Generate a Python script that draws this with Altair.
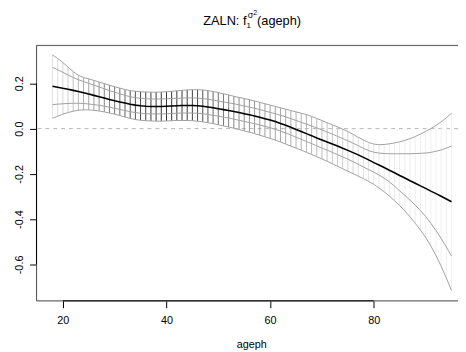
import altair as alt
import pandas as pd

ages = list(range(18, 96))

center = [0.187, 0.183, 0.178, 0.174, 0.169, 0.164, 0.159, 0.153, 0.147, 0.141,
          0.135, 0.129, 0.123, 0.118, 0.113, 0.108, 0.104, 0.101, 0.099, 0.098,
          0.098, 0.098, 0.099, 0.100, 0.101, 0.102, 0.102, 0.102, 0.101, 0.099,
          0.096, 0.092, 0.088, 0.084, 0.080, 0.076, 0.071, 0.066, 0.061, 0.056,
          0.050, 0.044, 0.038, 0.031, 0.023, 0.015, 0.006, -0.004, -0.013, -0.022,
          -0.031, -0.041, -0.050, -0.059, -0.068, -0.077, -0.087, -0.096, -0.106, -0.116,
          -0.127, -0.138, -0.150, -0.161, -0.172, -0.184, -0.195, -0.207, -0.218, -0.230,
          -0.241, -0.253, -0.264, -0.276, -0.287, -0.299, -0.311, -0.323]

outer_upper = [0.326, 0.310, 0.292, 0.272, 0.252, 0.236, 0.226, 0.220, 0.213, 0.206,
               0.199, 0.192, 0.185, 0.179, 0.173, 0.168, 0.165, 0.163, 0.162, 0.161,
               0.161, 0.162, 0.163, 0.165, 0.167, 0.169, 0.171, 0.172, 0.172, 0.171,
               0.168, 0.164, 0.159, 0.154, 0.149, 0.143, 0.138, 0.133, 0.128, 0.122,
               0.116, 0.110, 0.104, 0.098, 0.092, 0.086, 0.080, 0.074, 0.068, 0.062,
               0.054, 0.045, 0.036, 0.026, 0.017, 0.008, -0.002, -0.013, -0.025, -0.038,
               -0.050, -0.061, -0.068, -0.071, -0.070, -0.067, -0.063, -0.058, -0.052, -0.044,
               -0.035, -0.024, -0.012, 0.000, 0.014, 0.030, 0.048, 0.068]

inner_upper = [0.271, 0.260, 0.249, 0.237, 0.226, 0.216, 0.208, 0.200, 0.192, 0.184,
               0.176, 0.168, 0.161, 0.154, 0.147, 0.141, 0.137, 0.134, 0.132, 0.131,
               0.131, 0.131, 0.132, 0.133, 0.134, 0.135, 0.136, 0.136, 0.135, 0.133,
               0.130, 0.126, 0.122, 0.118, 0.114, 0.110, 0.105, 0.100, 0.095, 0.090,
               0.084, 0.078, 0.072, 0.066, 0.059, 0.052, 0.044, 0.036, 0.028, 0.020,
               0.012, 0.003, -0.006, -0.015, -0.024, -0.034, -0.044, -0.054, -0.064, -0.075,
               -0.087, -0.097, -0.104, -0.108, -0.110, -0.111, -0.111, -0.111, -0.111, -0.111,
               -0.110, -0.109, -0.108, -0.105, -0.100, -0.094, -0.086, -0.077]

inner_lower = [0.106, 0.108, 0.110, 0.111, 0.112, 0.112, 0.111, 0.109, 0.106, 0.103,
               0.099, 0.095, 0.090, 0.085, 0.080, 0.075, 0.071, 0.068, 0.066, 0.065,
               0.065, 0.065, 0.066, 0.067, 0.068, 0.069, 0.069, 0.069, 0.068, 0.066,
               0.063, 0.059, 0.055, 0.051, 0.047, 0.042, 0.037, 0.032, 0.027, 0.022,
               0.016, 0.010, 0.004, -0.003, -0.011, -0.019, -0.028, -0.038, -0.047, -0.057,
               -0.066, -0.076, -0.086, -0.095, -0.105, -0.115, -0.125, -0.135, -0.146, -0.157,
               -0.169, -0.181, -0.192, -0.205, -0.219, -0.235, -0.254, -0.275, -0.295, -0.316,
               -0.338, -0.362, -0.388, -0.418, -0.450, -0.485, -0.523, -0.563]

outer_lower = [0.046, 0.055, 0.064, 0.071, 0.077, 0.081, 0.083, 0.083, 0.081, 0.078,
               0.074, 0.069, 0.064, 0.058, 0.051, 0.045, 0.040, 0.037, 0.035, 0.034,
               0.033, 0.033, 0.034, 0.035, 0.036, 0.036, 0.036, 0.035, 0.033, 0.030,
               0.026, 0.022, 0.017, 0.012, 0.007, 0.002, -0.004, -0.010, -0.016, -0.022,
               -0.029, -0.036, -0.043, -0.051, -0.059, -0.068, -0.077, -0.086, -0.095, -0.105,
               -0.114, -0.124, -0.134, -0.144, -0.155, -0.166, -0.177, -0.188, -0.199, -0.210,
               -0.221, -0.233, -0.246, -0.262, -0.279, -0.298, -0.318, -0.340, -0.364, -0.390,
               -0.418, -0.448, -0.480, -0.518, -0.561, -0.608, -0.660, -0.715]

# grey level of each vertical segment (observation density)
shade = [225, 220, 212, 204, 194, 184, 172, 162, 152, 142,
         132, 122, 112, 102, 92, 82, 74, 66, 60, 56,
         52, 50, 48, 48, 50, 52, 56, 62, 70, 80,
         90, 100, 110, 118, 124, 130, 136, 140, 144, 148,
         152, 156, 159, 162, 165, 168, 171, 174, 177, 180,
         184, 188, 192, 196, 200, 204, 208, 212, 216, 220,
         223, 226, 229, 232, 233, 234, 235, 236, 237, 237,
         238, 238, 239, 239, 240, 240, 240, 240]

x_ticks = [20, 40, 60, 80]
y_ticks = [-0.6, -0.4, -0.2, 0.0, 0.2]
x_domain = [14.92, 96.25]
y_domain = [-0.7609, 0.3678]

df = pd.DataFrame({
    "ageph": ages,
    "center": center,
    "ou": outer_upper,
    "iu": inner_upper,
    "il": inner_lower,
    "ol": outer_lower,
    "col": ["#%02x%02x%02x" % (g, g, g) for g in shade],
})

FONT = "Liberation Sans"

xs = alt.Scale(domain=x_domain, nice=False, zero=False, padding=0)
ys = alt.Scale(domain=y_domain, nice=False, zero=False, padding=0)

x_axis = alt.Axis(values=x_ticks, title="ageph", grid=False, domain=False,
                  tickSize=7, tickColor="black", labelPadding=7, labelFontSize=11,
                  labelFont=FONT, labelColor="black", titleFont=FONT, titleFontSize=11,
                  titleFontWeight="normal", titleColor="black", titleX=218.7, titleY=47.5,
                  titleAlign="center", titleBaseline="alphabetic", labelFlush=False)
y_axis = alt.Axis(values=y_ticks, title=None, grid=False, domain=False,
                  tickSize=7, tickColor="black", labelPadding=7, labelFontSize=11,
                  labelFont=FONT, labelColor="black", labelAngle=270, labelAlign="center",
                  labelBaseline="alphabetic", labelFlush=False,
                  labelExpr="replace(format(datum.value, '.1f'), '\u2212', '-')")

base = alt.Chart(df)

zero_df = pd.DataFrame({"y": [0.0]})
zero = alt.Chart(zero_df).mark_rule(color="#b4b4b4", strokeWidth=1, strokeDash=[4, 4]).encode(
    y=alt.Y("y:Q", scale=ys, axis=y_axis),
)

verticals = base.mark_rule(strokeWidth=1).encode(
    x=alt.X("ageph:Q", scale=xs, axis=x_axis),
    y=alt.Y("ol:Q", scale=ys, axis=y_axis),
    y2="ou:Q",
    color=alt.Color("col:N", scale=None),
)

bands = base.transform_fold(["ou", "iu", "il", "ol"], as_=["bound", "val"]).mark_line(
    color="#a0a0a0", strokeWidth=1).encode(
    x=alt.X("ageph:Q", scale=xs),
    y=alt.Y("val:Q", scale=ys),
    detail="bound:N",
)

mean_line = base.mark_line(color="black", strokeWidth=1.6).encode(
    x=alt.X("ageph:Q", scale=xs),
    y=alt.Y("center:Q", scale=ys),
)

# box (right side lies beyond the picture)
frame_h = alt.Chart(pd.DataFrame({"y": [y_domain[0], y_domain[1]]})).mark_rule(
    color="#555555", strokeWidth=1).encode(
    y=alt.Y("y:Q", scale=ys), x=alt.value(0), x2=alt.value(440))
frame_v = alt.Chart(pd.DataFrame({"x": [x_domain[0]]})).mark_rule(
    color="#555555", strokeWidth=1).encode(x=alt.X("x:Q", scale=xs))

# axis lines from first to last tick
ax_df = pd.DataFrame({"x1": [x_ticks[0]], "x2": [x_ticks[-1]], "xl": [x_domain[0]],
                      "y1": [y_ticks[0]], "y2": [y_ticks[-1]], "yb": [y_domain[0]]})
x_line = alt.Chart(ax_df).mark_rule(color="black", strokeWidth=1).encode(
    x=alt.X("x1:Q", scale=xs), x2="x2:Q", y=alt.Y("yb:Q", scale=ys))
y_line = alt.Chart(ax_df).mark_rule(color="black", strokeWidth=1).encode(
    y=alt.Y("y1:Q", scale=ys), y2="y2:Q", x=alt.X("xl:Q", scale=xs))

# title  ZALN: f_1^{sigma^2}(ageph)
title_parts = pd.DataFrame({
    "t": ["ZALN: f", "1", "\u03c3", "2", "(ageph)"],
    "px": [169.7, 213.8, 215.0, 220.6, 224.5],
    "py": [-20.5, -18.0, -27.5, -31.0, -20.5],
    "fs": [13, 8, 9, 7, 13],
})
title_layers = []
for i in range(len(title_parts)):
    r = title_parts.iloc[i]
    title_layers.append(
        alt.Chart(pd.DataFrame({"t": [r["t"]]})).mark_text(
            font=FONT, fontSize=float(r["fs"]), align="left", baseline="alphabetic",
            color="black").encode(text="t:N", x=alt.value(float(r["px"])), y=alt.value(float(r["py"])))
    )

chart = alt.layer(zero, verticals, bands, mean_line, frame_h, frame_v, x_line, y_line,
                  *title_layers).properties(
    width=429, height=260,
    autosize=alt.AutoSizeParams(type="none"),
    padding={"left": 29, "top": 35, "right": 0, "bottom": 49},
).configure_view(stroke=None).configure(background="white")

chart.save("out.html", embed_options={"renderer": "svg", "actions": False})
